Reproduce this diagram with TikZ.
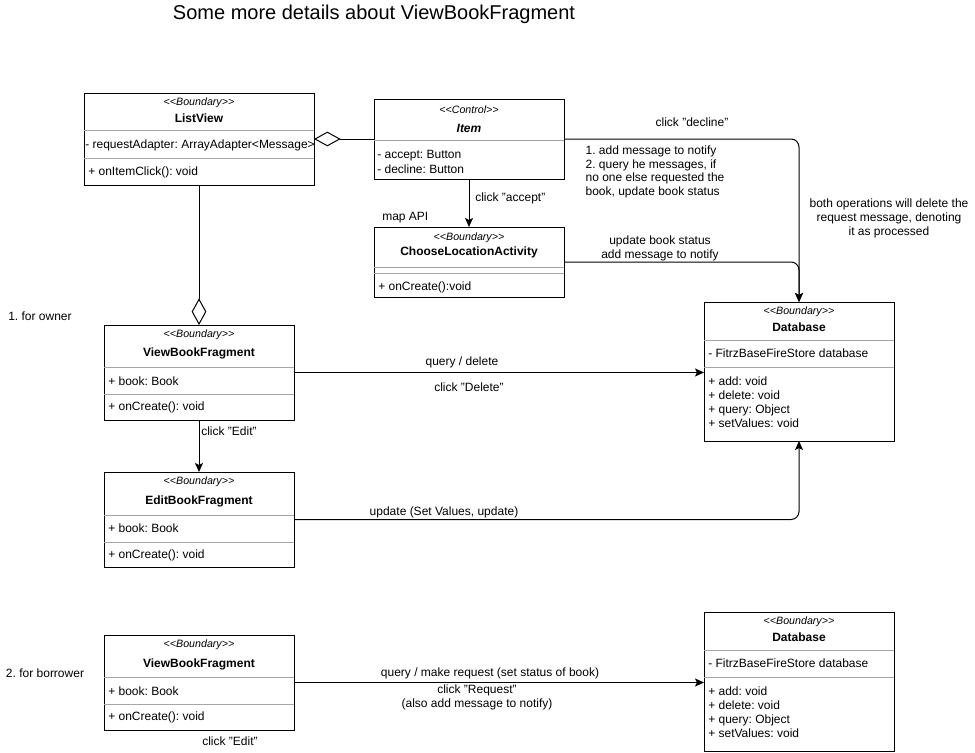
\documentclass[tikz,border=0pt]{standalone}
\usepackage{fontspec}
\setmainfont{Liberation Sans}
\usetikzlibrary{arrows.meta}
\frenchspacing
\tikzset{
	txt/.style={font=\fontsize{9}{10.5}\selectfont,inner sep=0pt},
	stereo/.style={font=\fontsize{8}{9}\selectfont\itshape,inner sep=0pt},
	cname/.style={font=\fontsize{9}{10.5}\selectfont\bfseries,inner sep=0pt},
	member/.style={txt,anchor=west},
	cls/.style={draw,line width=0.75pt,inner sep=0pt,outer sep=0pt,minimum width=142.5pt},
	sep/.style={draw=black!35,line width=0.75pt},
	conn/.style={line width=0.75pt,rounded corners=6pt,-{Stealth[length=6.75pt,width=6pt,inset=1.5pt]}},
	agg/.style={line width=0.75pt,{Diamond[open,length=20pt,width=11pt]}-}
}
\begin{document}
\begin{tikzpicture}[x=0.75pt,y=-0.75pt]
		\useasboundingbox (0,0) rectangle (975,753);
		\node[font=\fontsize{15}{18}\selectfont,inner sep=0pt] (title) at (374,14) {Some more details about ViewBookFragment};
		\node[txt] (owner) at (40,316) {1. for owner};
		\node[txt] (borrower) at (45,673) {2. for borrower};

		\node[cls,minimum width=172.5pt,minimum height=69pt] (lv) at (199,139) {};
		\draw[sep] (84,130)-- (314,130);
		\draw[sep] (84,158)-- (314,158);
		\node[stereo] (lvs) at (199,103) {<{}<Boundary>{}>};
		\node[cname] (lvn) at (199,118) {ListView};
		\node[member] (lva) at (85,145) {- requestAdapter: ArrayAdapter<Message>};
		\node[member] (lvm) at (88,172) {+ onItemClick(): void};

		\node[cls,minimum height=60pt] (item) at (469,139) {};
		\draw[sep] (374,140)-- (564,140);
		\node[stereo] (items) at (469,110) {<{}<Control>{}>};
		\node[cname,font=\fontsize{9}{10.5}\selectfont\bfseries\itshape] (itemn) at (469,128) {Item};
		\node[member] (itema) at (377,156) {- accept: Button};
		\node[member] (itemb) at (377,169) {- decline: Button};

		\node[cls,minimum height=52.5pt] (choose) at (469,262) {};
		\draw[sep] (374,267)-- (564,267);
		\draw[sep] (374,273)-- (564,273);
		\node[stereo] (chooses) at (469,238) {<{}<Boundary>{}>};
		\node[cname] (choosen) at (469,252) {ChooseLocationActivity};
		\node[member] (choosem) at (378,287) {+ onCreate():void};

		\node[cls,minimum height=104.25pt] (db) at (799,371.5) {};
		\draw[sep] (704,340)-- (894,340);
		\draw[sep] (704,367)-- (894,367);
		\node[stereo] (dbs) at (799,312) {<{}<Boundary>{}>};
		\node[cname] (dbn) at (799,327) {Database};
		\node[member] (dba) at (708,353) {- FitrzBaseFireStore database};
		\node[member,align=left] (dbm) at (708,402) {+ add: void\\+ delete: void\\+ query: Object\\+ setValues: void};

		\node[cls,minimum height=71.25pt] (vbf) at (199,372.5) {};
		\draw[sep] (104,367)-- (294,367);
		\draw[sep] (104,394)-- (294,394);
		\node[stereo] (vbfs) at (199,335) {<{}<Boundary>{}>};
		\node[cname] (vbfn) at (199,353) {ViewBookFragment};
		\node[member] (vbfa) at (108,381) {+ book: Book};
		\node[member] (vbfm) at (108,407) {+ onCreate(): void};

		\node[cls,minimum height=71.25pt] (ebf) at (199,519.5) {};
		\draw[sep] (104,515)-- (294,515);
		\draw[sep] (104,542)-- (294,542);
		\node[stereo] (ebfs) at (199,482) {<{}<Boundary>{}>};
		\node[cname] (ebfn) at (199,501) {EditBookFragment};
		\node[member] (ebfa) at (108,528) {+ book: Book};
		\node[member] (ebfm) at (108,555) {+ onCreate(): void};

		\node[cls,minimum height=71.25pt] (vbftwo) at (199,682.5) {};
		\draw[sep] (104,677)-- (294,677);
		\draw[sep] (104,704)-- (294,704);
		\node[stereo] (vbftwos) at (199,645) {<{}<Boundary>{}>};
		\node[cname] (vbftwon) at (199,664) {ViewBookFragment};
		\node[member] (vbftwoa) at (108,691) {+ book: Book};
		\node[member] (vbftwom) at (108,717) {+ onCreate(): void};

		\node[cls,minimum height=104.25pt] (dbtwo) at (799,681.5) {};
		\draw[sep] (704,650)-- (894,650);
		\draw[sep] (704,677)-- (894,677);
		\node[stereo] (dbtwos) at (799,622) {<{}<Boundary>{}>};
		\node[cname] (dbtwon) at (799,637) {Database};
		\node[member] (dbtwoa) at (708,663) {- FitrzBaseFireStore database};
		\node[member,align=left] (dbtwom) at (708,712) {+ add: void\\+ delete: void\\+ query: Object\\+ setValues: void};

		\draw[agg] (lv.east)-- (item.west);
		\draw[agg] (vbf.north)-- (lv.south);
		\draw[conn] (item.east)-- (db.north |- item.east)-- (db.north);
		\draw[conn] (item.south)-- (choose.north);
		\draw[conn] (choose.east)-- (db.north |- choose.east)-- (db.north);
		\draw[conn] (vbf.east)-- (vbf.east -| db.west);
		\draw[conn] (vbf.south)-- (ebf.north);
		\draw[conn] (ebf.east)-- (db.south |- ebf.east)-- (db.south);
		\draw[conn] (vbftwo.east)-- (vbftwo.east -| dbtwo.west);

		\node[txt] (decline) at (692,122) {click "decline"};
		\node[txt,align=left,font=\fontsize{9}{10.2}\selectfont] (notes) at (655,172) {1. add message to notify\\2. query he messages, if\\no one else requested the\\book, update book status};
		\node[txt,anchor=west] (accept) at (475,198) {click "accept"};
		\node[txt,anchor=west] (mapapi) at (382,218) {map API};
		\node[txt,align=center] (status) at (660,248) {update book status\\add message to notify};
		\node[txt,align=center] (both) at (889,218) {both operations will delete the\\request message, denoting\\it as processed};
		\node[txt] (qdel) at (462,362) {query / delete};
		\node[txt] (cdel) at (469,387) {click "Delete"};
		\node[txt,anchor=west] (edit) at (201,431) {click "Edit"};
		\node[txt] (upd) at (444,512) {update (Set Values, update)};
		\node[txt] (qreq) at (490,673) {query / make request (set status of book)};
		\node[txt,align=center] (creq) at (477,697) {click "Request"\\(also add message to notify)};
		\node[txt] (edittwo) at (230,741) {click "Edit"};
	\end{tikzpicture}
\end{document}
